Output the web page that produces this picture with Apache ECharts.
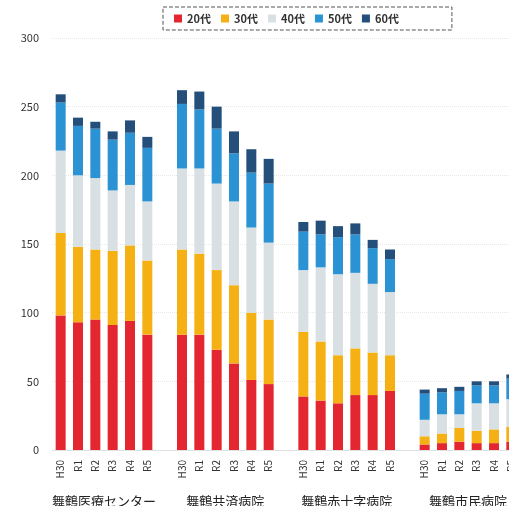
<!DOCTYPE html>
<html>
<head>
<meta charset="utf-8">
<script src="https://cdn.jsdelivr.net/npm/echarts@6/dist/echarts.min.js"></script>
<style>
html,body{margin:0;padding:0;background:#fff;}
#c{width:509px;height:506px;}
</style>
</head>
<body>
<div id="c"></div>
<script>
const hospitals = ['舞鶴医療センター', '舞鶴共済病院', '舞鶴赤十字病院', '舞鶴市民病院'];
const years = ['H30', 'R1', 'R2', 'R3', 'R4', 'R5'];
const ageNames = ['20代', '30代', '40代', '50代', '60代'];
const yTicks = [0, 50, 100, 150, 200, 250, 300];

// values per hospital (rows) and year (columns)
const age20 = [
  [98, 93, 95, 91, 94, 84],
  [84, 84, 73, 63, 51, 48],
  [39, 36, 34, 40, 40, 43],
  [4, 5, 6, 5, 5, 6]
];
const age30 = [
  [60, 55, 51, 54, 55, 54],
  [62, 59, 58, 57, 49, 47],
  [47, 43, 35, 34, 31, 26],
  [6, 7, 10, 9, 10, 11]
];
const age40 = [
  [60, 52, 52, 44, 44, 43],
  [59, 62, 63, 61, 62, 56],
  [45, 54, 59, 55, 50, 46],
  [12, 14, 10, 20, 19, 20]
];
const age50 = [
  [35, 36, 36, 37, 38, 39],
  [47, 43, 40, 35, 40, 43],
  [28, 24, 27, 28, 26, 24],
  [19, 16, 17, 13, 13, 15]
];
const age60 = [
  [6, 6, 5, 6, 9, 8],
  [10, 13, 16, 16, 17, 18],
  [7, 10, 8, 8, 6, 7],
  [3, 3, 3, 3, 3, 3]
];

const colors = ['#e3262f', '#f5b014', '#d9e0e3', '#2b93d3', '#234f7a'];
const FONT = '"Noto Sans CJK JP", "Noto Sans", sans-serif';

// build categories with a blank slot between hospitals
const categories = [];
const groupCenters = [];
hospitals.forEach((h, gi) => {
  const start = categories.length;
  years.forEach(y => categories.push(y + '|' + gi));
  groupCenters.push(start + (years.length - 1) / 2);
  if (gi < hospitals.length - 1) categories.push('|blank' + gi);
});

function flatten(rows) {
  const out = [];
  rows.forEach((r, gi) => {
    r.forEach(v => out.push(v));
    if (gi < rows.length - 1) out.push('-');
  });
  return out;
}

const allAges = [age20, age30, age40, age50, age60];
const series = allAges.map((rows, i) => ({
  name: ageNames[i],
  type: 'bar',
  stack: 'total',
  barWidth: 10,
  itemStyle: { color: colors[i] },
  data: flatten(rows)
}));

const chart = echarts.init(document.getElementById('c'));
chart.setOption({
  animation: false,
  backgroundColor: '#fff',
  textStyle: { fontFamily: FONT },
  legend: {
    data: ageNames,
    left: 163,
    top: 7,
    orient: 'horizontal',
    itemWidth: 8,
    itemHeight: 8,
    itemGap: 10,
    icon: 'rect',
    padding: [6, 53, 6, 11],
    borderColor: '#555',
    borderWidth: 1,
    borderType: 'dashed',
    textStyle: { fontSize: 11, fontWeight: 'bold', color: '#333', fontFamily: FONT }
  },
  grid: { left: 52, top: 38, width: 468, height: 412, containLabel: false, outerBoundsMode: 'none' },
  xAxis: [
    {
      type: 'category',
      data: categories,
      axisLine: { show: true, lineStyle: { color: '#e2e2e2' } },
      axisTick: { show: false },
      axisLabel: {
        interval: 0,
        rotate: 90,
        margin: 10,
        fontSize: 10,
        color: '#333',
        fontFamily: FONT,
        formatter: v => v.split('|')[0]
      }
    },
    {
      type: 'value',
      position: 'bottom',
      min: -0.5,
      max: categories.length - 0.5,
      axisLine: { show: false },
      axisTick: { show: false },
      splitLine: { show: false },
      axisLabel: {
        customValues: groupCenters,
        margin: 45,
        fontSize: 13,
        color: '#222',
        fontFamily: FONT,
        formatter: v => {
          const i = groupCenters.findIndex(c => Math.abs(c - v) < 0.01);
          return i >= 0 ? hospitals[i] : '';
        }
      }
    }
  ],
  yAxis: {
    type: 'value',
    min: yTicks[0],
    max: yTicks[yTicks.length - 1],
    interval: 50,
    axisLine: { show: false },
    axisTick: { show: false },
    axisLabel: { fontSize: 11, color: '#333', margin: 13, fontFamily: FONT },
    splitLine: { show: true, lineStyle: { color: '#e8e8e8', type: 'dotted' } }
  },
  series: series
});
</script>
</body>
</html>
